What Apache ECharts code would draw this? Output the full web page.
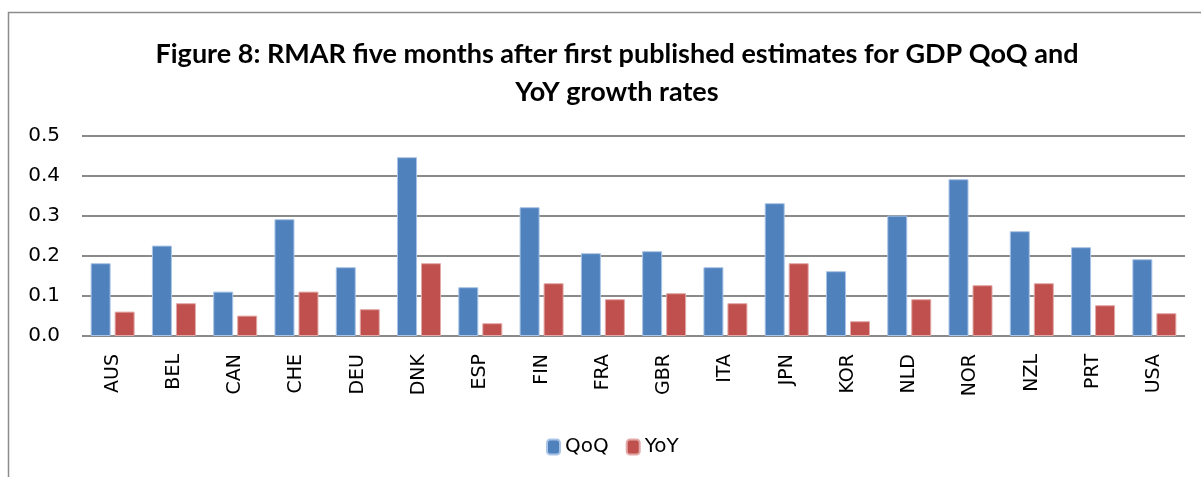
<!DOCTYPE html>
<html>
<head>
<meta charset="utf-8">
<script src="https://cdn.jsdelivr.net/npm/echarts@6/dist/echarts.min.js"></script>
<style>
  html, body { margin: 0; padding: 0; background: #fff; }
  #chart { width: 1201px; height: 477px; }
</style>
</head>
<body>
<div id="chart"></div>
<script>
var countries = ['AUS', 'BEL', 'CAN', 'CHE', 'DEU', 'DNK', 'ESP', 'FIN', 'FRA', 'GBR', 'ITA', 'JPN', 'KOR', 'NLD', 'NOR', 'NZL', 'PRT', 'USA'];
var qoq = [0.182, 0.226, 0.111, 0.292, 0.172, 0.447, 0.122, 0.322, 0.207, 0.212, 0.172, 0.332, 0.162, 0.301, 0.392, 0.262, 0.222, 0.192];
var yoy = [0.061, 0.082, 0.051, 0.111, 0.067, 0.182, 0.032, 0.132, 0.092, 0.107, 0.082, 0.182, 0.037, 0.092, 0.127, 0.132, 0.077, 0.057];

var myChart = echarts.init(document.getElementById('chart'));
var option = {
    animation: false,
    backgroundColor: '#fff',
    title: {
        text: 'Figure 8: RMAR five months after first published estimates for GDP QoQ and\nYoY growth rates',
        left: 612,
        top: 30,
        textAlign: 'center',
        textStyle: {
            fontFamily: 'Lato',
            fontWeight: 'bold',
            fontSize: 27,
            lineHeight: 38,
            color: '#000'
        }
    },
    legend: {
        data: ['QoQ', 'YoY'],
        left: 541,
        top: 432,
        itemWidth: 13,
        itemHeight: 15,
        itemGap: 17,
        textStyle: { fontFamily: 'DejaVu Sans', fontSize: 20, color: '#000' }
    },
    grid: { left: 82, right: 16, top: 136, bottom: 141, containLabel: false },
    xAxis: {
        type: 'category',
        data: countries,
        axisLine: { show: false },
        axisTick: { show: false },
        axisLabel: {
            rotate: 90,
            margin: 18,
            fontFamily: 'DejaVu Sans',
            fontSize: 19,
            color: '#000'
        }
    },
    yAxis: {
        type: 'value',
        min: 0,
        max: 0.5,
        interval: 0.1,
        axisLine: { show: false },
        axisTick: { show: false },
        axisLabel: {
            formatter: function (v) { return v.toFixed(1); },
            fontFamily: 'DejaVu Sans',
            fontSize: 20,
            color: '#000',
            margin: 22
        },
        splitLine: { lineStyle: { color: '#8a8a8a', width: 2 } }
    },
    series: [
        {
            name: 'QoQ',
            type: 'bar',
            data: qoq,
            barWidth: 20,
            barGap: '20%',
            itemStyle: { color: '#4F81BD', borderColor: '#a9c4e6', borderWidth: 1 }
        },
        {
            name: 'YoY',
            type: 'bar',
            data: yoy,
            barWidth: 20,
            itemStyle: { color: '#C0504D', borderColor: '#e2a9a8', borderWidth: 1 }
        }
    ],
    graphic: [
        {
            type: 'rect',
            shape: { x: 8.5, y: 12.5, width: 1200, height: 470 },
            style: { fill: 'none', stroke: '#8c8c8c', lineWidth: 1.5 },
            silent: true
        }
    ]
};
myChart.setOption(option);
</script>
</body>
</html>
